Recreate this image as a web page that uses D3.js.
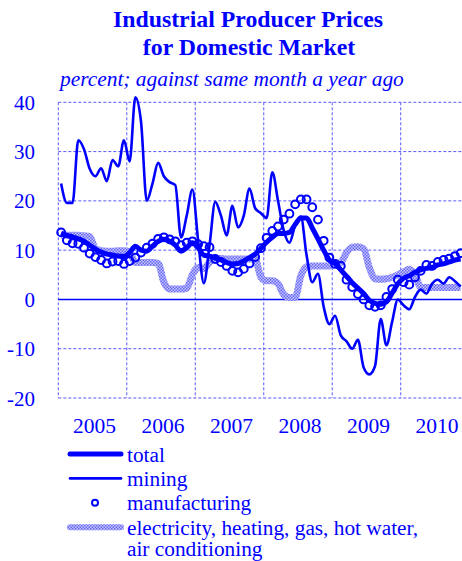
<!DOCTYPE html>
<html>
<head>
<meta charset="utf-8">
<script src="https://cdn.jsdelivr.net/npm/d3@7"></script>
<style>
  body { margin: 0; background: #fff; }
  svg { display: block; font-family: "Liberation Serif", "Times New Roman", serif; }
</style>
</head>
<body>
<svg id="chart" width="462" height="561"></svg>
<script>
// monthly values, Jan 2005 .. Nov 2010
const years = ['2005', '2006', '2007', '2008', '2009', '2010']
const yTicks = [-20, -10, 0, 10, 20, 30, 40]

const total = [13.5, 13, 12.7, 12.3, 11.8, 11, 10.2, 9.6, 9.2, 9, 8.8, 8.7,
  9.5, 10.8, 10, 9.8, 10.8, 11.8, 12.2, 11.8, 11, 9.8, 10.5, 11.5,
  10.5, 9, 8.8, 8.4, 8, 7.5, 7.2, 7.3, 7.8, 8.5, 9.2, 10.4,
  11.6, 12.6, 13.4, 13.4, 13.6, 15.2, 16.5, 16.5, 14.5, 12.3, 10, 8,
  7.3, 6, 4.7, 3.4, 2.3, 1.2, -0.2, -0.8, -1, -0.5, 1.3, 3.2,
  4.3, 4.8, 5.5, 6, 6.3, 6.5, 7, 7.2, 7.6, 8, 8.2]

const mining = [23.5, 19.6, 19.6, 32.3, 30.5, 26.5, 25, 26.6, 24, 28.3, 27, 32.3,
  28, 41, 36, 20, 23.5, 27.7, 25, 23.8, 23.2, 12.6, 17, 22.3,
  12, 3.3, 11, 19.8, 17, 13, 19, 14.6, 17, 22.5, 18.5, 17.5,
  16.5, 25.8, 20, 14, 11.5, 15, 16.8, 9, 3.5, 5.2, -1.5, -5,
  -3.3, -7.3, -8.5, -10, -8.2, -13.8, -15.2, -13.5, -4, -9.3, -4.5, 0,
  -1.2, -2, 0.5, 2, 1.2, 3.2, 4, 3.2, 4.5, 3.7, 2.6]

const manufacturing = [13.6, 12, 11.4, 11.3, 10.5, 9.3, 8.6, 8, 7.3, 7.7, 7.8, 7.2,
  7.8, 8.5, 9.5, 10.5, 11.3, 12.3, 12.6, 12.2, 11.8, 11, 11.5, 11.8,
  11.2, 10.8, 10.6, 8.2, 7.6, 6.8, 5.8, 5.5, 6.2, 7.3, 8.6, 10.4,
  12.5, 13.9, 14.8, 16.2, 17.4, 19.3, 20.3, 20.3, 18.7, 16.2, 11.9, 8.5,
  7.2, 6.8, 4, 2.5, 1.1, 0, -1.2, -1.5, -1.2, 0.5, 2.1, 4,
  3.5, 3, 4.5, 5.8, 7, 6.8, 7.6, 8, 8.3, 8.8, 9.4]

const electricity = [13, 13, 13, 13, 12.9, 12.8, 10.3, 9.9, 9.8, 9.8, 9.9, 9.9,
  9.6, 7.5, 7.5, 7.5, 7.5, 7.3, 3.5, 2.1, 2.1, 2.1, 2.3, 5,
  6.5, 6.3, 7.5, 8.3, 8.3, 8.2, 8.2, 8.2, 8.2, 8.2, 8.2, 4.5,
  3.8, 3.8, 3.2, 1, 0.4, 0.4, 4.8, 6.6, 6.8, 6.8, 6.8, 6.8,
  7.3, 7.5, 9.5, 10.6, 10.7, 10.3, 6.5, 4.2, 4.1, 4.2, 4.5, 5,
  5.6, 6.1, 5, 2.5, 2.4, 2.4, 2.4, 2.4, 2.4, 2.4, 2.4]

const blue = '#0000ff'
const gridColor = '#5a5aff'

const svg = d3.select('#chart')
const plotLeft = 58.3, plotRight = 469.2, plotTop = 102.3, plotBottom = 398

const xScale = d3.scaleLinear().domain([0, 72]).range([plotLeft, plotRight])
const yScale = d3.scaleLinear().domain([-20, 40]).range([plotBottom, plotTop])
const xm = i => xScale(i + 0.5)

// checkered stroke for electricity
const defs = svg.append('defs')
const pat = defs.append('pattern')
  .attr('id', 'checker')
  .attr('patternUnits', 'userSpaceOnUse')
  .attr('width', 3).attr('height', 3)
pat.append('rect').attr('width', 3).attr('height', 3).attr('fill', '#c4c4ff')
pat.append('rect').attr('width', 1.5).attr('height', 1.5).attr('fill', '#6868f4')
pat.append('rect').attr('x', 1.5).attr('y', 1.5).attr('width', 1.5).attr('height', 1.5).attr('fill', '#6868f4')

// title
svg.append('text')
  .attr('x', 248).attr('y', 27)
  .attr('text-anchor', 'middle')
  .attr('font-size', 23.8).attr('font-weight', 'bold')
  .attr('fill', blue)
  .text('Industrial Producer Prices')
svg.append('text')
  .attr('x', 249).attr('y', 54.5)
  .attr('text-anchor', 'middle')
  .attr('font-size', 23.8).attr('font-weight', 'bold')
  .attr('fill', blue)
  .text('for Domestic Market')
svg.append('text')
  .attr('x', 60).attr('y', 86)
  .attr('font-size', 21.4).attr('font-style', 'italic')
  .attr('fill', blue)
  .text('percent; against same month a year ago')

// grid
const grid = svg.append('g')
grid.selectAll('line.h')
  .data(yTicks.filter(d => d !== 0))
  .enter().append('line')
  .attr('x1', plotLeft).attr('x2', 462)
  .attr('y1', d => yScale(d)).attr('y2', d => yScale(d))
  .attr('stroke', gridColor).attr('stroke-width', 1)
  .attr('stroke-dasharray', '3,2')
grid.selectAll('line.v')
  .data(d3.range(0, 6))
  .enter().append('line')
  .attr('x1', d => xScale(d * 12)).attr('x2', d => xScale(d * 12))
  .attr('y1', plotTop).attr('y2', plotBottom)
  .attr('stroke', gridColor).attr('stroke-width', 1)
  .attr('stroke-dasharray', '3,2')
grid.append('line')
  .attr('x1', plotLeft).attr('x2', 462)
  .attr('y1', yScale(0)).attr('y2', yScale(0))
  .attr('stroke', blue).attr('stroke-width', 1.5)

// axis labels
svg.selectAll('text.ytick')
  .data(yTicks)
  .enter().append('text')
  .attr('class', 'ytick')
  .attr('x', 35).attr('y', d => yScale(d) + 7.5)
  .attr('text-anchor', 'end')
  .attr('font-size', 21).attr('fill', blue)
  .text(d => d)
svg.selectAll('text.year')
  .data(years)
  .enter().append('text')
  .attr('class', 'year')
  .attr('x', (d, i) => xScale(i * 12 + 6) + 2)
  .attr('y', 432.5)
  .attr('text-anchor', 'middle')
  .attr('font-size', 21.5).attr('fill', blue)
  .text(d => d)

// series
const line = d3.line()
  .x((d, i) => xm(i))
  .y(d => yScale(d))
  .curve(d3.curveMonotoneX)

const plot = svg.append('g')
plot.append('path').datum(electricity)
  .attr('d', line).attr('fill', 'none')
  .attr('stroke', 'url(#checker)').attr('stroke-width', 7)
plot.append('path').datum(mining)
  .attr('d', line).attr('fill', 'none')
  .attr('stroke', blue).attr('stroke-width', 2.6)
plot.append('path').datum(total)
  .attr('d', line).attr('fill', 'none')
  .attr('stroke', blue).attr('stroke-width', 5)
plot.selectAll('circle')
  .data(manufacturing)
  .enter().append('circle')
  .attr('cx', (d, i) => xm(i))
  .attr('cy', d => yScale(d))
  .attr('r', 3.9)
  .attr('fill', 'none')
  .attr('stroke', blue).attr('stroke-width', 2)

// legend
const legendItems = [
  { label: ['total'], kind: 'total' },
  { label: ['mining'], kind: 'mining' },
  { label: ['manufacturing'], kind: 'manufacturing' },
  { label: ['electricity, heating, gas, hot water,', 'air conditioning'], kind: 'electricity' }
]
const legend = svg.append('g')
legendItems.forEach((item, i) => {
  const cy = 454 + i * 24.4
  if (item.kind === 'manufacturing') {
    legend.append('circle').attr('cx', 95).attr('cy', cy).attr('r', 3)
      .attr('fill', 'none').attr('stroke', blue).attr('stroke-width', 2)
  } else {
    const w = { total: 5, mining: 2.6, electricity: 6 }[item.kind]
    legend.append('line')
      .attr('x1', 70).attr('x2', 121)
      .attr('y1', cy).attr('y2', cy)
      .attr('stroke', item.kind === 'electricity' ? 'url(#checker)' : blue)
      .attr('stroke-width', w)
      .attr('stroke-linecap', 'round')
  }
  item.label.forEach((t, j) => {
    legend.append('text')
      .attr('x', 127).attr('y', cy + 7.5 + j * 21.5)
      .attr('font-size', 21.3).attr('fill', blue)
      .text(t)
  })
})
</script>
</body>
</html>
